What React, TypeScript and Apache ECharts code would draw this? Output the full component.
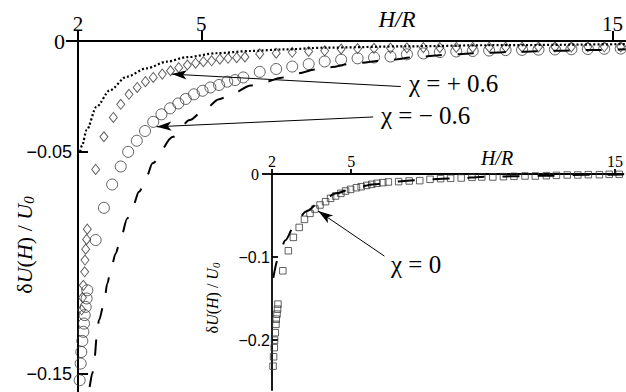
import React, { useEffect, useRef } from "react";
import * as echarts from "echarts";

// Main panel: χ = +0.6 theory (dotted) and χ = −0.6 theory (dashed)
const plusTheory: [number, number][] = [
  [2.05, -0.0498], [2.1, -0.047], [2.21, -0.0401], [2.45, -0.0296], [2.78, -0.0221],
  [3.18, -0.0161], [3.67, -0.0123], [4.16, -0.0093], [4.64, -0.0073], [5.37, -0.0055],
  [6.18, -0.0045], [7.0, -0.0038], [8.0, -0.003], [10.0, -0.0024], [12.0, -0.0019], [15.32, -0.0014],
];
const minusTheory: [number, number][] = [
  [2.2, -0.17], [2.267, -0.1564], [2.348, -0.1497], [2.406, -0.1422], [2.454, -0.1332],
  [2.51, -0.1257], [2.632, -0.1182], [2.712, -0.1092], [2.795, -0.1032], [2.916, -0.0956],
  [3.038, -0.0889], [3.198, -0.0799], [3.344, -0.0739], [3.482, -0.0679], [3.684, -0.0604],
  [3.806, -0.0551], [4.31, -0.0431], [4.72, -0.0356], [5.04, -0.0315], [5.43, -0.0262],
  [5.77, -0.0236], [6.2, -0.02], [6.54, -0.0185], [6.95, -0.0165], [7.31, -0.0146],
  [7.8, -0.0128], [8.12, -0.0118], [8.73, -0.01], [9.5, -0.0086], [10.31, -0.0071],
  [11.11, -0.006], [11.93, -0.0053], [12.74, -0.0048], [13.54, -0.0044], [14.36, -0.0041],
  [15.32, -0.0037],
];

// Main panel: simulation points
const plusData: [number, number][] = [
  [2.09, -0.121], [2.11, -0.1155], [2.13, -0.11], [2.163, -0.1039], [2.17, -0.0986],
  [2.187, -0.0937], [2.21, -0.0893], [2.226, -0.0847],
  [2.43, -0.0578], [2.63, -0.0431], [2.86, -0.0344], [3.04, -0.0285], [3.24, -0.024],
  [3.44, -0.0209], [3.64, -0.0183], [3.83, -0.0164], [4.05, -0.0149], [4.25, -0.0134],
  [4.45, -0.012], [4.66, -0.0108], [4.86, -0.01], [5.05, -0.0093], [5.25, -0.0089],
  [5.45, -0.0082], [5.65, -0.0078], [5.86, -0.0075], [6.06, -0.0072],
  [6.42, -0.0058], [6.82, -0.0055], [7.21, -0.0051], [7.61, -0.0047], [8.0, -0.0044],
  [8.4, -0.0036], [8.8, -0.0034], [9.2, -0.0033], [9.6, -0.0032], [10.0, -0.0031],
  [10.4, -0.003], [10.8, -0.003], [11.2, -0.0029], [11.6, -0.0029], [12.0, -0.0028],
  [12.4, -0.0028], [12.8, -0.0028], [13.2, -0.0027], [13.6, -0.0027], [14.0, -0.0027],
  [14.4, -0.0026], [14.8, -0.0026], [15.2, -0.0026],
];
const minusData: [number, number][] = [
  [2.04, -0.1527], [2.065, -0.1452], [2.08, -0.14], [2.105, -0.135], [2.13, -0.1309],
  [2.146, -0.1272], [2.163, -0.1234], [2.187, -0.1197], [2.21, -0.1159], [2.226, -0.1122],
  [2.43, -0.0896], [2.63, -0.0751], [2.83, -0.0646], [3.04, -0.0565], [3.22, -0.0499],
  [3.43, -0.0449], [3.63, -0.0405], [3.83, -0.0364], [4.03, -0.033], [4.24, -0.0303],
  [4.44, -0.0281], [4.62, -0.0261], [4.82, -0.024], [5.03, -0.0224], [5.22, -0.0209],
  [5.43, -0.0198], [5.63, -0.0183], [5.82, -0.0176], [6.02, -0.0164],
  [6.42, -0.0139], [6.82, -0.0126], [7.21, -0.0115], [7.61, -0.0104], [8.0, -0.0092],
  [8.4, -0.0084], [8.8, -0.0078], [9.2, -0.0074], [9.6, -0.007], [10.0, -0.006],
  [10.4, -0.0056], [10.8, -0.005], [11.2, -0.0047], [11.6, -0.0045], [12.0, -0.0043],
  [12.4, -0.0041], [12.8, -0.004], [13.2, -0.0039], [13.6, -0.0038], [14.0, -0.0037],
  [14.4, -0.0036], [14.8, -0.0035], [15.2, -0.0034],
];

// Inset: χ = 0 theory (dashed) and simulation points
const zeroTheory: [number, number][] = [
  [2.05, -0.125], [2.25, -0.1], [2.5, -0.08], [2.88, -0.06], [3.29, -0.045], [3.84, -0.0332],
  [4.44, -0.0232], [5.07, -0.0172], [5.88, -0.0124], [6.45, -0.01], [7.14, -0.008],
  [7.7, -0.0072], [8.45, -0.0056], [9.14, -0.0052], [9.89, -0.0035], [10.5, -0.0032],
  [11.2, -0.0026], [12.59, -0.002], [13.84, -0.001], [15.32, -0.0006],
];
const zeroData: [number, number][] = [
  [2.04, -0.2313], [2.06, -0.22], [2.086, -0.209], [2.098, -0.2], [2.124, -0.191],
  [2.15, -0.181], [2.16, -0.1747], [2.19, -0.1687], [2.21, -0.1627], [2.226, -0.1566],
  [2.41, -0.1165], [2.62, -0.0924], [2.81, -0.0763], [3.03, -0.0643], [3.23, -0.0546],
  [3.44, -0.0474], [3.63, -0.0422], [3.82, -0.0373], [4.03, -0.0333], [4.22, -0.0293],
  [4.41, -0.0265], [4.61, -0.0233], [4.79, -0.0205], [4.98, -0.0185], [5.2, -0.0165],
  [5.38, -0.0153], [5.59, -0.0137], [5.78, -0.0124], [5.98, -0.0112], [6.2, -0.0104],
  [6.41, -0.0096], [6.8, -0.0092], [7.2, -0.0084], [7.6, -0.008], [7.99, -0.0064],
  [8.39, -0.0056], [8.77, -0.0052], [9.17, -0.0048], [9.58, -0.004], [9.95, -0.0036],
  [10.37, -0.0036], [10.77, -0.0032], [11.17, -0.0028], [11.59, -0.0024], [11.98, -0.0024],
  [12.4, -0.002], [12.78, -0.0016], [13.19, -0.0012], [13.59, -0.0012], [13.99, -0.0008],
  [14.41, -0.0008], [14.78, -0.0004], [15.16, -0.0004],
];

// Annotation arrows: [tip, tail]
const plusArrow: [number, number][] = [[4.28, -0.0149], [9.85, -0.0205]];
const minusArrow: [number, number][] = [[3.91, -0.0386], [9.18, -0.0342]];
const zeroArrow: [number, number][] = [[3.75, -0.0446], [6.26, -0.0988]];

// Tick positions
const mainXTicks = [2, 5, 15];
const mainYTicks = [0, -0.05, -0.15];
const insetXTicks = [2, 5, 15];
const insetYTicks = [0, -0.1, -0.2];

const SERIF = "Liberation Serif";
const SANS = "Liberation Sans";
const INK = "#000";
const MARK = "#3a3a3a";

const yLabel = (v: number) => (v === 0 ? "{z|0}" : "\u2212" + String(Math.abs(v)));

const arrowLine = (pair: [number, number][]) => [
  { coord: pair[0] },
  { coord: pair[1] },
];

const yName = (size: number, sub: number, drop: number) => ({
  text: "{n|\u03B4}{i|U}{n|(}{i|H}{n|) / }{i|U}{s|0}",
  fontFamily: SERIF,
  fontSize: size,
  fill: INK,
  textAlign: "center",
  textVerticalAlign: "middle",
  rich: {
    n: { fontFamily: SERIF, fontSize: size, fill: INK },
    i: { fontFamily: SERIF, fontSize: size, fontStyle: "italic", fill: INK },
    s: { fontFamily: SERIF, fontSize: sub, fontStyle: "italic", fill: INK, verticalAlign: "bottom", padding: [drop, 0, 0, 0] },
  },
});

const note = (text: string, x: number, y: number, size: number, italic = false) => ({
  type: "text",
  x,
  y,
  style: {
    text,
    fontFamily: SERIF,
    fontStyle: italic ? "italic" : "normal",
    fontSize: size,
    fill: INK,
    textAlign: italic ? "center" : "left",
    textVerticalAlign: "middle",
  },
});

export default function App() {
  const ref = useRef<HTMLDivElement>(null);

  useEffect(() => {
    if (!ref.current) return;
    const chart = echarts.init(ref.current, undefined, { renderer: "svg" });

    const axisLine = (w: number) => ({
      show: true,
      onZero: false,
      lineStyle: { color: INK, width: w },
    });

    const markLineBase = {
      silent: true,
      symbol: ["arrow", "none"],
      symbolSize: [7, 15],
      lineStyle: { color: INK, width: 1, type: "solid" },
      label: { show: false },
      emphasis: { disabled: true },
      animation: false,
    };

    chart.setOption({
      animation: false,
      backgroundColor: "#fff",
      grid: [
        { left: 78, top: 41, width: 548, height: 351 },
        { left: 272, top: 174, width: 354, height: 216 },
      ],
      xAxis: [
        {
          gridIndex: 0,
          type: "value",
          position: "top",
          min: 2,
          max: 15.32,
          axisLine: axisLine(2),
          axisTick: { show: true, length: 10, customValues: mainXTicks, lineStyle: { color: INK, width: 2 } },
          axisLabel: { customValues: mainXTicks, fontFamily: SERIF, fontSize: 21, color: INK, margin: 7 },
          splitLine: { show: false },
        },
        {
          gridIndex: 1,
          type: "value",
          position: "top",
          min: 2,
          max: 15.32,
          axisLine: axisLine(1.8),
          axisTick: { show: true, length: 5, customValues: insetXTicks, lineStyle: { color: INK, width: 1.8 } },
          axisLabel: { customValues: insetXTicks, fontFamily: SERIF, fontSize: 16, color: INK, margin: 5 },
          splitLine: { show: false },
        },
      ],
      yAxis: [
        {
          gridIndex: 0,
          type: "value",
          position: "left",
          min: -0.158,
          max: 0,
          axisLine: axisLine(2),
          axisTick: { show: true, inside: true, length: 10, customValues: [-0.05, -0.15], lineStyle: { color: INK, width: 2 } },
          axisLabel: {
            customValues: mainYTicks,
            formatter: yLabel,
            fontFamily: SANS,
            fontSize: 18,
            color: INK,
            margin: 6,
            rich: { z: { fontFamily: SERIF, fontSize: 22, color: INK, padding: [0, 7, 0, 0] } },
          },
          splitLine: { show: false },
        },
        {
          gridIndex: 0,
          type: "value",
          position: "left",
          min: -0.158,
          max: 0,
          axisLine: { show: false, onZero: false },
          axisTick: { show: true, inside: false, length: 12, customValues: [0], lineStyle: { color: INK, width: 2 } },
          axisLabel: { show: false },
          splitLine: { show: false },
        },
        {
          gridIndex: 1,
          type: "value",
          position: "left",
          min: -0.26,
          max: 0,
          axisLine: axisLine(1.8),
          axisTick: { show: true, inside: true, length: 6, customValues: [-0.1, -0.2], lineStyle: { color: INK, width: 1.8 } },
          axisLabel: {
            customValues: insetYTicks,
            formatter: yLabel,
            fontFamily: SANS,
            fontSize: 16,
            color: INK,
            margin: 2,
            rich: { z: { fontFamily: SERIF, fontSize: 16, color: INK, padding: [0, 11, 0, 0] } },
          },
          splitLine: { show: false },
        },
        {
          gridIndex: 1,
          type: "value",
          position: "left",
          min: -0.26,
          max: 0,
          axisLine: { show: false, onZero: false },
          axisTick: { show: true, inside: false, length: 10, customValues: [0], lineStyle: { color: INK, width: 1.8 } },
          axisLabel: { show: false },
          splitLine: { show: false },
        },
      ],
      series: [
        {
          name: "chi+0.6 theory",
          type: "line",
          xAxisIndex: 0,
          yAxisIndex: 0,
          data: plusTheory,
          showSymbol: false,
          smooth: 0.3,
          smoothMonotone: "x",
          lineStyle: { color: INK, width: 2.2, type: [2, 2.2] },
          markLine: { ...markLineBase, data: [arrowLine(plusArrow), arrowLine(minusArrow)] },
        },
        {
          name: "chi-0.6 theory",
          type: "line",
          xAxisIndex: 0,
          yAxisIndex: 0,
          data: minusTheory,
          showSymbol: false,
          smooth: 0.3,
          smoothMonotone: "x",
          lineStyle: { color: INK, width: 2, type: [16, 16] },
        },
        {
          name: "chi+0.6",
          type: "scatter",
          xAxisIndex: 0,
          yAxisIndex: 0,
          data: plusData,
          symbol: "diamond",
          symbolSize: [8, 10],
          clip: false,
          itemStyle: { color: "rgba(0,0,0,0)", borderColor: MARK, borderWidth: 1 },
        },
        {
          name: "chi-0.6",
          type: "scatter",
          xAxisIndex: 0,
          yAxisIndex: 0,
          data: minusData,
          symbol: "circle",
          symbolSize: 11,
          clip: false,
          itemStyle: { color: "rgba(0,0,0,0)", borderColor: MARK, borderWidth: 1 },
        },
        {
          name: "chi0 theory",
          type: "line",
          xAxisIndex: 1,
          yAxisIndex: 2,
          data: zeroTheory,
          showSymbol: false,
          smooth: 0.3,
          smoothMonotone: "x",
          lineStyle: { color: INK, width: 2, type: [17, 18] },
          markLine: { ...markLineBase, data: [arrowLine(zeroArrow)] },
        },
        {
          name: "chi0",
          type: "scatter",
          xAxisIndex: 1,
          yAxisIndex: 2,
          data: zeroData,
          symbol: "rect",
          symbolSize: 6.5,
          clip: false,
          itemStyle: { color: "rgba(0,0,0,0)", borderColor: MARK, borderWidth: 1 },
        },
      ],
      graphic: [
        note("H/R", 397, 19, 23, true),
        note("H/R", 497, 158, 20, true),
        { type: "text", x: 24, y: 245, rotation: Math.PI / 2, style: yName(22, 15, 9) },
        { type: "text", x: 212, y: 298, rotation: Math.PI / 2, style: yName(16, 11, 7) },
        note("\u03C7 = + 0.6", 409, 83, 25),
        note("\u03C7 = \u2212 0.6", 381, 115, 25),
        note("\u03C7 = 0", 391, 264, 25),
      ],
    });

    return () => chart.dispose();
  }, []);

  return (
    <div
      ref={ref}
      style={{ position: "fixed", left: 0, top: 0, width: 626, height: 392, background: "#fff" }}
    />
  );
}
